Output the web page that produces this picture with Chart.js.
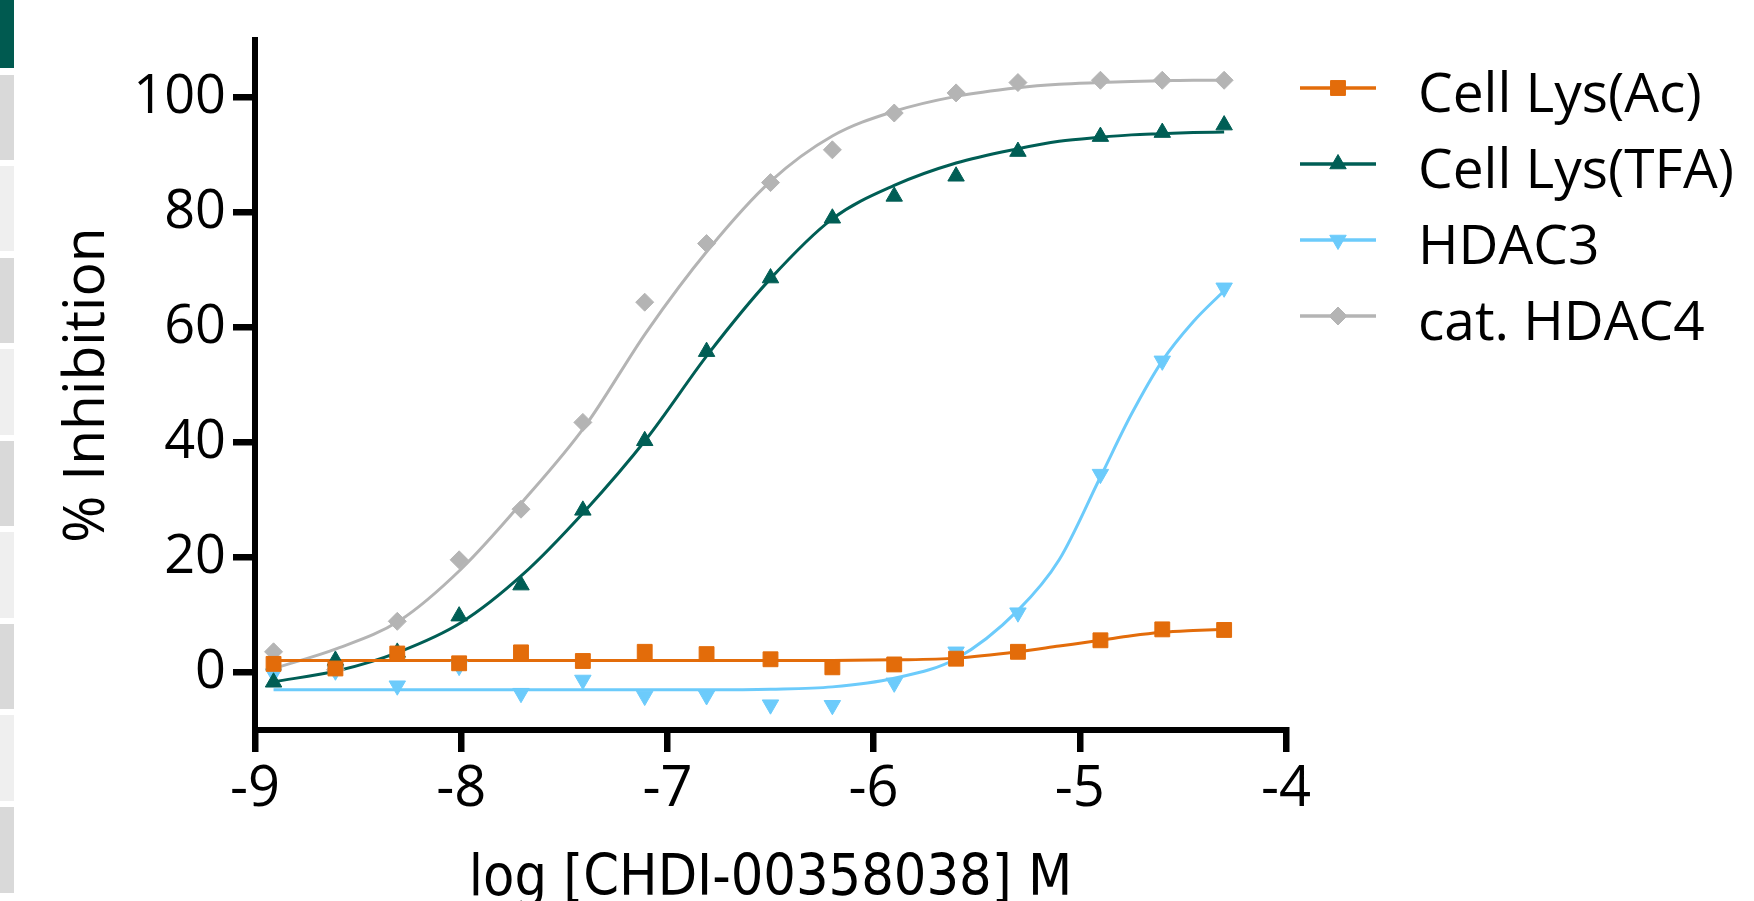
<!DOCTYPE html>
<html>
<head>
<meta charset="utf-8">
<script src="https://cdn.jsdelivr.net/npm/chart.js@4.4.1/dist/chart.umd.min.js"></script>
<style>
  html, body { margin: 0; padding: 0; background: #fff; overflow: hidden; }
  #wrap { position: relative; width: 1754px; height: 901px; }
  #chart { position: absolute; left: 0; top: 0; }
  .seg { position: absolute; left: 0; width: 14px; }
  .dark { background: #d9d9d9; }
  .light { background: #efefef; }
</style>
</head>
<body>
<div id="wrap">
  <canvas id="chart" width="1754" height="901"></canvas>
  <div class="seg" style="top:0;height:68px;background:#005a50"></div>
  <div class="seg dark" style="top:75px;height:85px"></div>
  <div class="seg light" style="top:166px;height:85px"></div>
  <div class="seg dark" style="top:258px;height:85px"></div>
  <div class="seg light" style="top:349px;height:86px"></div>
  <div class="seg dark" style="top:441px;height:85px"></div>
  <div class="seg light" style="top:532px;height:86px"></div>
  <div class="seg dark" style="top:624px;height:85px"></div>
  <div class="seg light" style="top:715px;height:86px"></div>
  <div class="seg dark" style="top:807px;height:86px"></div>
</div>
<script>
// log [M] of the tested concentrations
const logConc = [-8.91, -8.61, -8.31, -8.01, -7.71, -7.41, -7.11, -6.81, -6.50, -6.20, -5.90, -5.60, -5.30, -4.90, -4.60, -4.30];

// measured % inhibition
const cellLysAc  = [1.5, 0.7, 3.3, 1.6, 3.5, 2.0, 3.6, 3.2, 2.3, 0.9, 1.4, 2.4, 3.6, 5.6, 7.5, 7.4];
const cellLysTFA = [-1.7, 2.1, 3.5, 9.8, 15.2, 28.2, 40.3, 55.8, 68.6, 79.0, 82.8, 86.3, 90.6, 93.2, 93.9, 95.2];
const hdac3      = [-0.2, 0.3, -2.3, 1.1, -3.6, -1.3, -4.1, -4.0, -5.6, -5.7, -1.8, 3.6, 10.4, 34.5, 54.2, 66.9];
const catHdac4   = [3.6, 0.5, 8.9, 19.6, 28.4, 43.5, 64.4, 74.6, 85.2, 90.9, 97.3, 100.8, 102.6, 103.0, 103.0, 103.0];

// fitted curves
const fitX       = [-8.91, -8.6, -8.3, -8.0, -7.7, -7.4, -7.1, -6.8, -6.5, -6.2, -5.9, -5.6, -5.3, -5.1, -4.9, -4.75, -4.6, -4.45, -4.3];
const fitAc      = [2.1, 2.1, 2.1, 2.1, 2.1, 2.1, 2.1, 2.1, 2.1, 2.1, 2.2, 2.5, 3.6, 4.6, 5.6, 6.4, 7.0, 7.3, 7.5];
const fitTFA     = [-1.6, 0.3, 3.6, 8.7, 17.1, 28.1, 40.7, 55.5, 68.5, 78.9, 84.7, 88.6, 91.1, 92.4, 93.1, 93.5, 93.7, 93.9, 94.0];
const fitHdac3   = [-3.0, -3.0, -3.0, -3.0, -3.0, -3.0, -3.0, -3.0, -2.9, -2.5, -1.0, 2.4, 10.8, 19.6, 34.0, 44.9, 54.2, 61.0, 66.4];
const fitHdac4   = [0.7, 4.2, 9.0, 18.0, 29.8, 42.8, 59.3, 73.6, 85.4, 93.3, 97.6, 100.2, 101.7, 102.3, 102.6, 102.8, 102.9, 103.0, 103.0];

const seriesNames = ['Cell Lys(Ac)', 'Cell Lys(TFA)', 'HDAC3', 'cat. HDAC4'];
const xTicks = [-9, -8, -7, -6, -5, -4];
const yTicks = [0, 20, 40, 60, 80, 100];

const pointSets = [cellLysAc, cellLysTFA, hdac3, catHdac4];
const fitSets = [fitAc, fitTFA, fitHdac3, fitHdac4];

const styles = [
    { color: '#e36c0a', point: 'rect', radius: 10.5, rotation: 0 },
    { color: '#005e55', point: 'triangle', radius: 9.5, rotation: 0 },
    { color: '#6ccbfb', point: 'triangle', radius: 9.5, rotation: 180 },
    { color: '#b4b4b4', point: 'rectRot', radius: 9, rotation: 0 }
];

const datasets = [];
seriesNames.forEach((name, i) => {
    const st = styles[i];
    datasets.push({
        label: name + ' fit',
        data: fitX.map((x, j) => ({ x: x, y: fitSets[i][j] })),
        showLine: true,
        borderColor: st.color,
        borderWidth: 3,
        pointRadius: 0,
        cubicInterpolationMode: 'monotone',
        fill: false,
        order: 10 + i
    });
    datasets.push({
        label: name,
        data: logConc.map((x, j) => ({ x: x, y: pointSets[i][j] })),
        showLine: false,
        pointStyle: st.point,
        pointRadius: st.radius,
        pointRotation: st.rotation,
        backgroundColor: st.color,
        borderColor: st.color,
        borderWidth: 1,
        order: i
    });
});

function drawMarker(ctx, st, x, y) {
    if (Chart.helpers && Chart.helpers.drawPoint) {
        Chart.helpers.drawPoint(ctx, { pointStyle: st.point, radius: st.radius, rotation: st.rotation, borderWidth: 1 }, x, y);
        return;
    }
    ctx.beginPath();
    ctx.arc(x, y, st.radius * 0.8, 0, Math.PI * 2);
    ctx.fill();
}

// legend with line + marker, drawn on the right
const sideLegend = {
    id: 'sideLegend',
    afterDraw(chart) {
        const ctx = chart.ctx;
        ctx.save();
        seriesNames.forEach((name, i) => {
            const st = styles[i];
            const y = 88 + i * 76;
            ctx.strokeStyle = st.color;
            ctx.fillStyle = st.color;
            ctx.lineWidth = 3.5;
            ctx.beginPath();
            ctx.moveTo(1300, y);
            ctx.lineTo(1376, y);
            ctx.stroke();
            ctx.lineWidth = 1;
            drawMarker(ctx, st, 1338, y);
            ctx.fillStyle = '#000';
            ctx.font = '55px "Open Sans", sans-serif';
            ctx.textAlign = 'left';
            ctx.textBaseline = 'alphabetic';
            ctx.fillText(name, 1418, y + 24);
        });
        ctx.restore();
    }
};

const ctx = document.getElementById('chart').getContext('2d');
new Chart(ctx, {
    type: 'scatter',
    data: { datasets: datasets },
    plugins: [sideLegend],
    options: {
        responsive: false,
        animation: false,
        layout: { padding: { left: 0, top: 40, right: 468, bottom: 0 } },
        plugins: { legend: { display: false }, tooltip: { enabled: false } },
        scales: {
            x: {
                type: 'linear',
                min: -9,
                max: -4,
                afterBuildTicks: s => { s.ticks = xTicks.map(v => ({ value: v })); },
                afterFit: s => { s.height = 171; },
                border: { display: true, color: '#000', width: 6 },
                grid: { display: true, drawOnChartArea: false, drawTicks: true, tickLength: 22, tickWidth: 6.5, lineWidth: 6.5, color: '#000', tickColor: '#000' },
                ticks: {
                    color: '#000',
                    font: { family: '"Open Sans", sans-serif', size: 56 },
                    padding: 4,
                    maxRotation: 0,
                    autoSkip: false
                },
                title: {
                    display: true,
                    text: 'log [CHDI-00358038] M',
                    color: '#000',
                    font: { family: '"DejaVu Sans Condensed", "DejaVu Sans", sans-serif', size: 57, lineHeight: 0.6 },
                    padding: { top: 0, bottom: 4 }
                }
            },
            y: {
                min: -10,
                max: 110,
                afterBuildTicks: s => { s.ticks = yTicks.map(v => ({ value: v })); },
                afterFit: s => { s.width = 255; },
                border: { display: true, color: '#000', width: 6 },
                grid: { display: true, drawOnChartArea: false, drawTicks: true, tickLength: 22, tickWidth: 6.5, lineWidth: 6.5, color: '#000', tickColor: '#000' },
                ticks: {
                    color: '#000',
                    font: { family: '"Open Sans", sans-serif', size: 54 },
                    padding: 7
                },
                title: {
                    display: true,
                    text: '% Inhibition',
                    color: '#000',
                    font: { family: '"Open Sans", sans-serif', size: 57 },
                    padding: { top: 54, bottom: 0 }
                }
            }
        }
    }
});
</script>
</body>
</html>
